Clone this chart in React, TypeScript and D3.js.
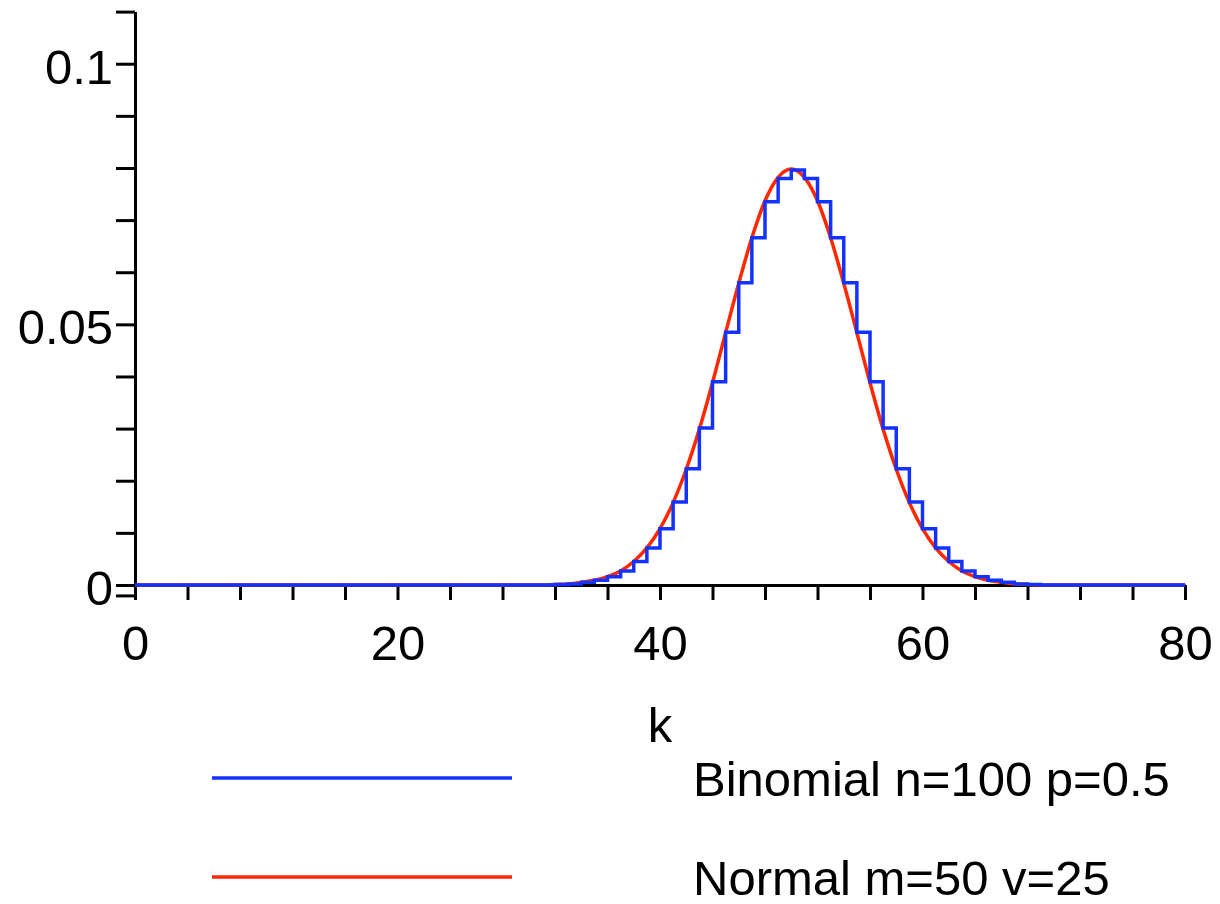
import { useEffect, useRef } from "react"
import * as d3 from "d3"

// k = 0..80
const kValues = d3.range(0, 81)

const binomial = [
  0, 0, 0, 0, 0, 0, 0, 0, 0, 0, // 0-9
  0, 0, 0, 0, 0, 0, 0, 0, 0, 0, // 10-19
  0, 0, 0, 0, 0, 0, 0, 0, 0, 0, // 20-29
  0, 0, 0.0001, 0.0002, 0.0005, 0.0009, 0.0016, 0.0027, 0.0045, 0.0071, // 30-39
  0.0108, 0.0159, 0.0223, 0.0301, 0.0390, 0.0485, 0.0580, 0.0666, 0.0735, 0.0780, // 40-49
  0.0796, 0.0780, 0.0735, 0.0666, 0.0580, 0.0485, 0.0390, 0.0301, 0.0223, 0.0159, // 50-59
  0.0108, 0.0071, 0.0045, 0.0027, 0.0016, 0.0009, 0.0005, 0.0002, 0.0001, 0, // 60-69
  0, 0, 0, 0, 0, 0, 0, 0, 0, 0, // 70-79
  0, // 80
]

const normal = [
  0, 0, 0, 0, 0, 0, 0, 0, 0, 0, // 0-9
  0, 0, 0, 0, 0, 0, 0, 0, 0, 0, // 10-19
  0, 0, 0, 0, 0, 0, 0, 0, 0, 0, // 20-29
  0, 0, 0.0001, 0.0002, 0.0005, 0.0009, 0.0016, 0.0027, 0.0045, 0.0071, // 30-39
  0.0108, 0.0158, 0.0222, 0.0299, 0.0388, 0.0484, 0.0579, 0.0666, 0.0737, 0.0782, // 40-49
  0.0798, 0.0782, 0.0737, 0.0666, 0.0579, 0.0484, 0.0388, 0.0299, 0.0222, 0.0158, // 50-59
  0.0108, 0.0071, 0.0045, 0.0027, 0.0016, 0.0009, 0.0005, 0.0002, 0.0001, 0, // 60-69
  0, 0, 0, 0, 0, 0, 0, 0, 0, 0, // 70-79
  0, // 80
]

const xTicks = [0, 4, 8, 12, 16, 20, 24, 28, 32, 36, 40, 44, 48, 52, 56, 60, 64, 68, 72, 76, 80]
const xLabels = [0, 20, 40, 60, 80]
const yTicks = [-0.002, 0, 0.01, 0.02, 0.03, 0.04, 0.05, 0.06, 0.07, 0.08, 0.09, 0.1, 0.11]
const yLabels = [0, 0.05, 0.1]

const seriesNames = ["Binomial n=100 p=0.5", "Normal m=50 v=25"]
const BLUE = "#1432ff"
const RED = "#ff2800"
const FONT = "'Liberation Sans', Arial, Helvetica, sans-serif"

const App = () => {
  const svgRef = useRef<SVGSVGElement>(null)

  useEffect(() => {
    const width = 1220
    const height = 904
    const svg = d3.select(svgRef.current)
    svg.selectAll("*").remove()
    svg.attr("width", width).attr("height", height)

    const x = d3.scaleLinear().domain([0, 80]).range([135, 1185])
    const y = d3.scaleLinear().domain([-0.002, 0.11]).range([595.4, 11.6])

    const isLabel = (list: number[], v: number) => list.some(l => Math.abs(l - v) < 1e-9)

    const xAxis = d3.axisBottom(x)
      .tickValues(xTicks)
      .tickSize(15)
      .tickSizeOuter(0)
      .tickPadding(25)
      .tickFormat(d => (isLabel(xLabels, +d) ? String(d) : ""))

    const yAxis = d3.axisLeft(y)
      .tickValues(yTicks)
      .tickSize(19)
      .tickSizeOuter(0)
      .tickPadding(3)
      .tickFormat(d => (isLabel(yLabels, +d) ? String(+d) : ""))

    const gx = svg.append("g").attr("transform", `translate(0,${y(0)})`).call(xAxis)
    const gy = svg.append("g").attr("transform", `translate(${x(0)},0)`).call(yAxis)

    for (const g of [gx, gy]) {
      g.selectAll("path.domain").attr("stroke", "#000").attr("stroke-width", 3)
      g.selectAll(".tick line").attr("stroke", "#000").attr("stroke-width", 3)
      g.selectAll(".tick text")
        .attr("fill", "#000")
        .style("font-family", FONT)
        .style("font-size", "49px")
    }
    gy.selectAll(".tick text").attr("dy", "0.4em")

    svg.append("text")
      .attr("x", (x(0) + x(80)) / 2)
      .attr("y", 742)
      .attr("text-anchor", "middle")
      .style("font-family", FONT)
      .style("font-size", "49px")
      .text("k")

    const normalLine = d3.line<number>()
      .x(k => x(k))
      .y(k => y(normal[k]))
      .curve(d3.curveMonotoneX)

    const binomialLine = d3.line<number>()
      .x(k => x(k))
      .y(k => y(binomial[k]))
      .curve(d3.curveStepAfter)

    svg.append("path")
      .datum(kValues)
      .attr("d", normalLine)
      .attr("fill", "none")
      .attr("stroke", RED)
      .attr("stroke-width", 3.5)

    svg.append("path")
      .datum(kValues)
      .attr("d", binomialLine)
      .attr("fill", "none")
      .attr("stroke", BLUE)
      .attr("stroke-width", 3.5)
      .attr("stroke-linejoin", "miter")

    // legend
    const legend = svg.append("g")
    const colors = [BLUE, RED]
    seriesNames.forEach((name, i) => {
      const ly = 778 + i * 99
      legend.append("line")
        .attr("x1", 212).attr("x2", 512)
        .attr("y1", ly).attr("y2", ly)
        .attr("stroke", colors[i])
        .attr("stroke-width", 3.5)
      legend.append("text")
        .attr("x", 693)
        .attr("y", ly + 18)
        .style("font-family", FONT)
        .style("font-size", "49px")
        .attr("fill", "#000")
        .text(name)
    })
  }, [])

  return (
    <div>
      <svg ref={svgRef} style={{ position: "absolute", left: 0, top: 0, background: "#fff" }} />
    </div>
  )
}

export default App
